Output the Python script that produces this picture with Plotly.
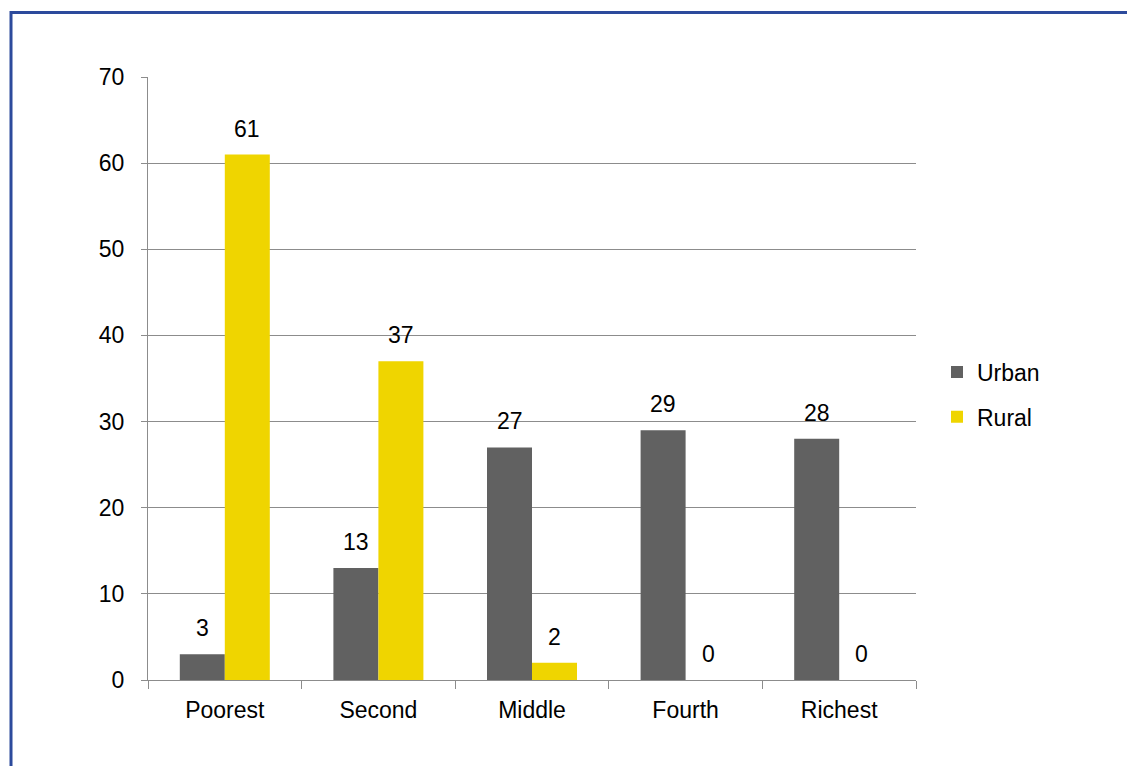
import plotly.graph_objects as go

categorias = ['Poorest', 'Second', 'Middle', 'Fourth', 'Richest']
urbano = [3, 13, 27, 29, 28]
rural = [61, 37, 2, 0, 0]
ticks_y = [0, 10, 20, 30, 40, 50, 60, 70]

# la pagina agrega 8px de margen al body
W, H = 1127, 758
L, T = 140, 69
pw, ph = 768, 603
R, B = W - L - pw, H - T - ph

fuente = dict(family='Liberation Sans, Arial, sans-serif', size=23, color='black')

fig = go.Figure()
fig.add_trace(go.Bar(x=categorias, y=urbano, name='Urban', marker_color='#616161',
                     marker_line_width=0, legendgroup='u'))
fig.add_trace(go.Bar(x=categorias, y=rural, name='Rural', marker_color='#EFD500',
                     marker_line_width=0, legendgroup='r'))

# etiquetas de valor sobre cada barra
for cat, u, r in zip(categorias, urbano, rural):
    for val, dx in ((u, -22.5), (r, 22.5)):
        fig.add_annotation(x=cat, y=val, text=str(val), showarrow=False,
                           xshift=dx, yshift=26, font=fuente)

# marco azul alrededor del grafico
fig.add_shape(type='rect', xref='paper', yref='paper',
              x0=(3 - L) / pw, x1=(W + 30 - L) / pw,
              y0=(T + ph - (H + 30)) / ph, y1=(T + ph - 4.5) / ph,
              line=dict(color='#2C4A9C', width=3), fillcolor='rgba(0,0,0,0)', layer='above')

fig.update_layout(
    width=W, height=H,
    margin=dict(l=L, r=R, t=T, b=B),
    barmode='group', bargap=0.414, bargroupgap=0,
    plot_bgcolor='white', paper_bgcolor='white',
    font=fuente,
    showlegend=True,
    legend=dict(x=(937 - 8 - L) / pw, y=(T + ph - 386.5) / ph, xanchor='left', yanchor='middle',
                font=fuente, itemwidth=30, tracegroupgap=12),
)
fig.update_yaxes(range=[0, 70], tickvals=ticks_y, showgrid=True, gridcolor='#8C8C8C',
                 gridwidth=1, showline=True, linecolor='#8C8C8C', ticks='outside',
                 ticklen=6, tickcolor='#8C8C8C', zeroline=False, ticklabelstandoff=12)
fig.update_xaxes(showline=True, linecolor='#8C8C8C', ticks='outside', tickson='boundaries',
                 ticklen=8, tickcolor='#8C8C8C', showgrid=False, ticklabelstandoff=9)

fig.write_html("out.html")
